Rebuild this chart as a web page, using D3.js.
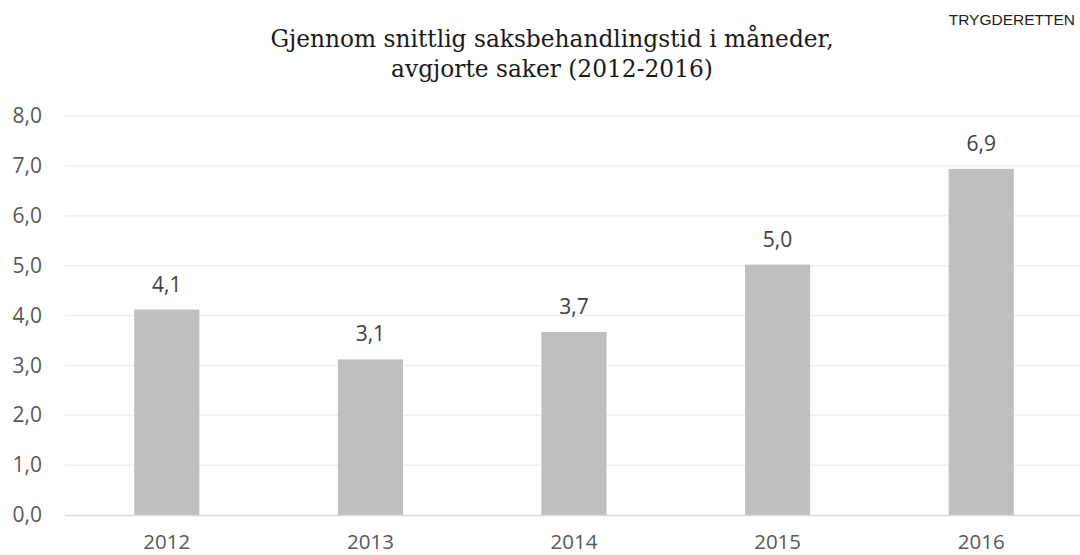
<!DOCTYPE html>
<html>
<head>
<meta charset="utf-8">
<script src="https://cdn.jsdelivr.net/npm/d3@7"></script>
<style>
  body { margin: 0; background: #fff; }
  svg { display: block; }
</style>
</head>
<body>
<div class="chart"></div>
<script>
const years = ['2012', '2013', '2014', '2015', '2016'];
const months = [4.12, 3.12, 3.67, 5.02, 6.94];
const yTicks = [0, 1, 2, 3, 4, 5, 6, 7, 8];
const titleLines = ['Gjennom snittlig saksbehandlingstid i måneder,', 'avgjorte saker (2012-2016)'];
const source = 'TRYGDERETTEN';

const svgWidth = 1080, svgHeight = 555;
const margin = {top: 116, right: -3, bottom: 40, left: 65};
const width = svgWidth - margin.left - margin.right,
      height = svgHeight - margin.top - margin.bottom;

const fmt = d => d3.format('.1f')(d).replace('.', ',');

let svg = d3.select('.chart').append('svg')
    .attr('width', svgWidth)
    .attr('height', svgHeight);

// title + source tag
svg.append('text')
    .attr('x', 1075).attr('y', 25)
    .attr('text-anchor', 'end')
    .style('font-family', '"Liberation Sans", Arial, sans-serif')
    .style('font-size', '15.5px')
    .attr('fill', '#222')
    .text(source);

svg.selectAll('.title')
    .data(titleLines)
    .enter().append('text')
    .attr('class', 'title')
    .attr('x', 552)
    .attr('y', (d, i) => 47 + i * 30)
    .attr('text-anchor', 'middle')
    .style('font-family', '"DejaVu Serif", Georgia, serif')
    .style('font-size', '23.3px')
    .attr('fill', '#1a1a1a')
    .text(d => d);

let g = svg.append('g')
    .attr('transform', 'translate(' + margin.left + ',' + margin.top + ')');

const x = d3.scaleBand().domain(years).range([0, width])
    .paddingInner(0.68).paddingOuter(0.34);
const y = d3.scaleLinear().domain([0, 8]).range([height, 0]);

// gridlines
g.selectAll('.grid')
    .data(yTicks.slice(1))
    .enter().append('line')
    .attr('class', 'grid')
    .attr('x1', 0).attr('x2', width)
    .attr('y1', d => y(d)).attr('y2', d => y(d))
    .attr('stroke', '#f0f0f0')
    .attr('stroke-width', 1.5);

// y axis labels
const yAxis = d3.axisLeft(y).tickValues(yTicks).tickFormat(fmt).tickSize(0).tickPadding(23);
let ya = g.append('g').call(yAxis);
ya.select('.domain').remove();
ya.selectAll('text')
    .style('font-family', '"Open Sans", sans-serif')
    .style('font-size', '21px')
    .attr('fill', '#595959');

// bars
g.selectAll('.bar')
    .data(months)
    .enter().append('rect')
    .attr('class', 'bar')
    .attr('x', (d, i) => x(years[i]))
    .attr('width', x.bandwidth())
    .attr('y', d => y(d))
    .attr('height', d => height - y(d))
    .attr('fill', '#bfbfbf');

// value labels
g.selectAll('.val')
    .data(months)
    .enter().append('text')
    .attr('class', 'val')
    .attr('x', (d, i) => x(years[i]) + x.bandwidth() / 2)
    .attr('y', d => y(d) - 18)
    .attr('text-anchor', 'middle')
    .style('font-family', '"Open Sans", sans-serif')
    .style('font-size', '21px')
    .attr('fill', '#404040')
    .text(fmt);

// x axis
const xAxis = d3.axisBottom(x).tickSize(0).tickPadding(19);
let xa = g.append('g')
    .attr('transform', 'translate(0,' + height + ')')
    .call(xAxis);
xa.select('.domain').attr('stroke', '#d9d9d9').attr('stroke-width', 1.5);
xa.selectAll('text')
    .style('font-family', '"Open Sans", sans-serif')
    .style('font-size', '20.5px')
    .attr('fill', '#595959');
</script>
</body>
</html>
